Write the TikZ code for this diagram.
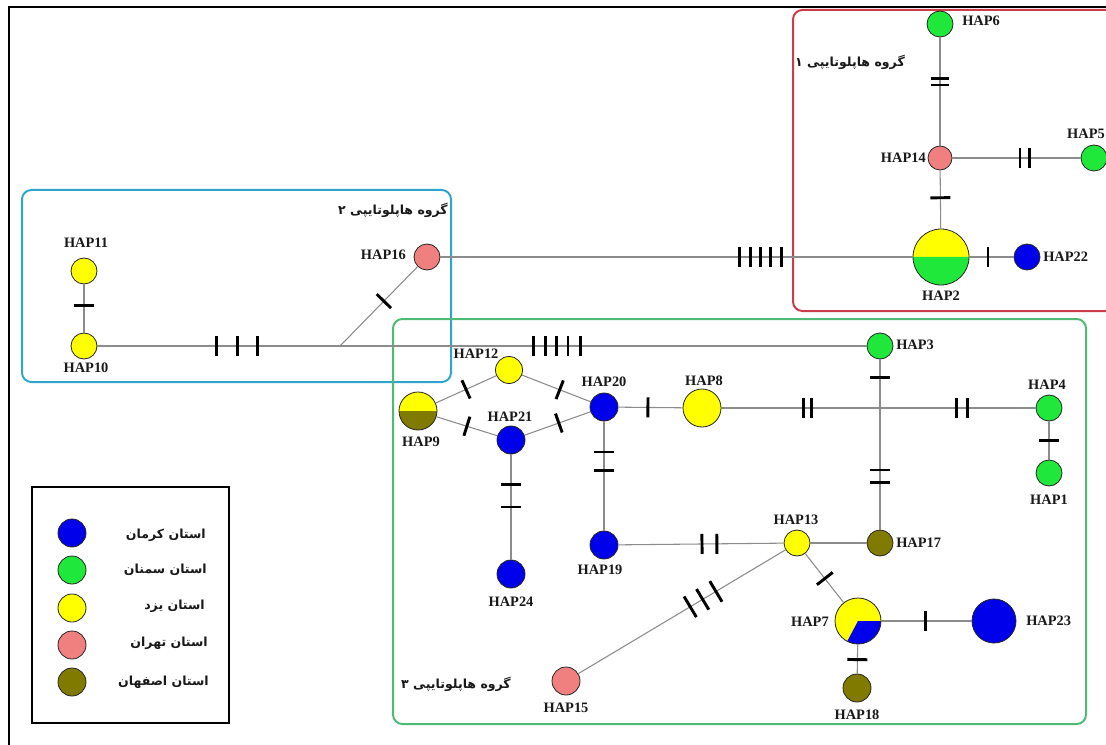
\documentclass[tikz,border=0pt]{standalone}
\usepackage{fontspec}
\setmainfont{Liberation Serif}
\newfontfamily\fafont[Script=Arabic]{DejaVu Sans}
\TeXXeTstate=1
\definecolor{cb}{RGB}{0,0,235}
\definecolor{cg}{RGB}{32,232,58}
\definecolor{cy}{RGB}{255,255,0}
\definecolor{cp}{RGB}{240,128,128}
\definecolor{co}{RGB}{128,122,0}
\definecolor{lgrey}{RGB}{140,140,140}
\definecolor{redbox}{RGB}{205,60,75}
\definecolor{bluebox}{RGB}{45,165,205}
\definecolor{greenbox}{RGB}{80,185,115}
\begin{document}
\begin{tikzpicture}[x=0.75pt,y=-0.75pt,
  hap/.style={circle,draw=black!85,line width=0.6pt,inner sep=0pt,minimum size=#1*0.75pt},
  edge/.style={draw=lgrey,line width=0.8pt},
  tick/.style={sloped,rectangle,fill=black,draw=none,inner sep=0pt,minimum width=2.2pt,minimum height=15pt},
  lab/.style={font=\fontsize{10.8}{12}\selectfont\bfseries,inner sep=0pt,text=black!90},
  fa/.style={font=\fafont\bfseries\fontsize{9.4}{11}\selectfont,inner sep=0pt,text=black!90},
  grp/.style={rounded corners=7pt,line width=1.5pt}]
\useasboundingbox (0,0) rectangle (1106,745);
\clip (0,0) rectangle (1106,745);
\fill[white] (0,0) rectangle (1106,745);
% outer frame
\draw[line width=2pt] (9,745) -- (9,7) -- (1106,7);
% group boxes
\draw[grp,draw=redbox] (793,10) rectangle (1125,311);
\draw[grp,draw=bluebox] (22,190) rectangle (451,382);
\draw[grp,draw=greenbox] (393,319) rectangle (1086,724);
% legend box
\draw[line width=1.1pt] (32,487) rectangle (229,723);

% pie fills
\fill[cy] (941,257) ++(0:21pt) arc[start angle=0,end angle=180,radius=21pt] -- cycle;
\fill[cg] (941,257) ++(180:21pt) arc[start angle=180,end angle=360,radius=21pt] -- cycle;
\fill[cy] (418,411) ++(0:14.25pt) arc[start angle=0,end angle=180,radius=14.25pt] -- cycle;
\fill[co] (418,411) ++(180:14.25pt) arc[start angle=180,end angle=360,radius=14.25pt] -- cycle;
\fill[cy] (858,621) circle[radius=17.25pt];
\fill[cb] (858,621) -- ++(0:17.25pt) arc[start angle=0,end angle=-118,radius=17.25pt] -- cycle;

% haplotype nodes
\node[hap=26,fill=cg] (HAP6) at (940,24) {};
\node[hap=24,fill=cp] (HAP14) at (940,158) {};
\node[hap=26,fill=cg] (HAP5) at (1094,158) {};
\node[hap=56] (HAP2) at (941,257) {};
\node[hap=26,fill=cb] (HAP22) at (1027,257) {};
\node[hap=26,fill=cp] (HAP16) at (427,257) {};
\node[hap=26,fill=cy] (HAP11) at (84,271) {};
\node[hap=26,fill=cy] (HAP10) at (84,346) {};
\node[hap=26,fill=cg] (HAP3) at (880,346) {};
\node[hap=27,fill=cy] (HAP12) at (509,370) {};
\node[hap=38] (HAP9) at (418,411) {};
\node[hap=28,fill=cb] (HAP21) at (511,440) {};
\node[hap=28,fill=cb] (HAP20) at (604,407) {};
\node[hap=38,fill=cy] (HAP8) at (702,408) {};
\node[hap=26,fill=cg] (HAP4) at (1049,408) {};
\node[hap=26,fill=cg] (HAP1) at (1049,473) {};
\node[hap=28,fill=cb] (HAP24) at (511,574) {};
\node[hap=28,fill=cb] (HAP19) at (604,545) {};
\node[hap=26,fill=cy] (HAP13) at (797,543) {};
\node[hap=26,fill=co] (HAP17) at (880,543) {};
\node[hap=46] (HAP7) at (858,621) {};
\node[hap=44,fill=cb] (HAP23) at (994,621) {};
\node[hap=28,fill=co] (HAP18) at (857,688) {};
\node[hap=28,fill=cp] (HAP15) at (566,681) {};
\coordinate (J1) at (340,346);
\coordinate (J2) at (880,408);

% connectors with mutation marks
\draw[edge] (HAP6) -- (HAP14) node[tick,pos=0.376,minimum height=13.5pt]{} node[tick,pos=0.44,minimum height=13.5pt]{};
\draw[edge] (HAP14) -- (HAP5) node[tick,pos=0.527]{} node[tick,pos=0.60]{};
\draw[edge] (HAP14) -- (HAP2) node[tick,pos=0.47]{};
\draw[edge] (HAP2) -- (HAP22) node[tick,pos=0.42]{};
\draw[edge] (HAP16) -- (HAP2) node[tick,pos=0.634]{} node[tick,pos=0.657]{} node[tick,pos=0.678]{} node[tick,pos=0.699]{} node[tick,pos=0.722]{};
\draw[edge] (HAP11) -- (HAP10) node[tick,pos=0.43]{};
\draw[edge] (HAP10) -- (J1) node[tick,pos=0.49]{} node[tick,pos=0.578]{} node[tick,pos=0.66]{};
\draw[edge] (HAP16) -- (J1) node[tick,pos=0.435]{};
\draw[edge] (J1) -- (HAP3) node[tick,pos=0.367]{} node[tick,pos=0.39]{} node[tick,pos=0.411]{} node[tick,pos=0.433]{} node[tick,pos=0.456]{};
\draw[edge] (HAP9) -- (HAP12) node[tick,pos=0.5]{};
\draw[edge] (HAP12) -- (HAP20) node[tick,pos=0.55]{};
\draw[edge] (HAP9) -- (HAP21) node[tick,pos=0.5]{};
\draw[edge] (HAP21) -- (HAP20) node[tick,pos=0.52]{};
\draw[edge] (HAP21) -- (HAP24) node[tick,pos=0.283]{} node[tick,pos=0.5]{};
\draw[edge] (HAP20) -- (HAP8) node[tick,pos=0.46]{};
\draw[edge] (HAP20) -- (HAP19) node[tick,pos=0.28]{} node[tick,pos=0.45]{};
\draw[edge] (HAP8) -- (J2) node[tick,pos=0.516]{} node[tick,pos=0.57]{};
\draw[edge] (J2) -- (HAP4) node[tick,pos=0.49]{} node[tick,pos=0.56]{};
\draw[edge] (HAP3) -- (J2) node[tick,pos=0.37]{};
\draw[edge] (J2) -- (HAP17) node[tick,pos=0.51]{} node[tick,pos=0.61]{};
\draw[edge] (HAP4) -- (HAP1) node[tick,pos=0.5]{};
\draw[edge] (HAP19) -- (HAP13) node[tick,pos=0.506]{} node[tick,pos=0.596]{};
\draw[edge] (HAP13) -- (HAP17);
\draw[edge] (HAP13) -- (HAP15) node[tick,pos=0.336,minimum height=18pt]{} node[tick,pos=0.40,minimum height=18pt]{} node[tick,pos=0.46,minimum height=18pt]{};
\draw[edge] (HAP13) -- (HAP7) node[tick,pos=0.51]{};
\draw[edge] (HAP7) -- (HAP23) node[tick,pos=0.49]{};
\draw[edge] (HAP7) -- (HAP18) node[tick,pos=0.52]{};

% haplotype labels
\node[lab,anchor=west] (tHAP6) at (962,21) {HAP6};
\node[lab,anchor=east] (tHAP14) at (926,158) {HAP14};
\node[lab] (tHAP5) at (1086,134) {HAP5};
\node[lab] (tHAP2) at (941,296) {HAP2};
\node[lab,anchor=west] (tHAP22) at (1043,257) {HAP22};
\node[lab,anchor=east] (tHAP16) at (406,255) {HAP16};
\node[lab] (tHAP11) at (86,243) {HAP11};
\node[lab] (tHAP10) at (86,368) {HAP10};
\node[lab,anchor=west] (tHAP3) at (896,345) {HAP3};
\node[lab] (tHAP12) at (476,354) {HAP12};
\node[lab] (tHAP9) at (421,442) {HAP9};
\node[lab] (tHAP21) at (510,417) {HAP21};
\node[lab] (tHAP20) at (604,382) {HAP20};
\node[lab] (tHAP8) at (704,381) {HAP8};
\node[lab] (tHAP4) at (1047,385) {HAP4};
\node[lab] (tHAP1) at (1049,500) {HAP1};
\node[lab] (tHAP24) at (511,602) {HAP24};
\node[lab] (tHAP19) at (600,570) {HAP19};
\node[lab] (tHAP13) at (796,520) {HAP13};
\node[lab,anchor=west] (tHAP17) at (896,543) {HAP17};
\node[lab,anchor=east] (tHAP7) at (829,622) {HAP7};
\node[lab,anchor=west] (tHAP23) at (1026,621) {HAP23};
\node[lab] (tHAP18) at (857,715) {HAP18};
\node[lab] (tHAP15) at (566,708) {HAP15};

% group labels
\node[fa] (g1) at (850,62) {\beginR گروه هاپلوتایپی ۱\endR};
\node[fa] (g2) at (393,210) {\beginR گروه هاپلوتایپی ۲\endR};
\node[fa] (g3) at (456,684) {\beginR گروه هاپلوتایپی ۳\endR};

% legend
\node[hap=28,fill=cb] (lc1) at (72,533) {};
\node[hap=28,fill=cg] (lc2) at (72,570) {};
\node[hap=28,fill=cy] (lc3) at (72,608) {};
\node[hap=28,fill=cp] (lc4) at (72,645) {};
\node[hap=28,fill=co] (lc5) at (72,682) {};
\node[fa,anchor=east] (lt1) at (206,535) {\beginR استان کرمان\endR};
\node[fa,anchor=east] (lt2) at (207,570) {\beginR استان سمنان\endR};
\node[fa,anchor=east] (lt3) at (205,606) {\beginR استان یزد\endR};
\node[fa,anchor=east] (lt4) at (208,643) {\beginR استان تهران\endR};
\node[fa,anchor=east] (lt5) at (209,682) {\beginR استان اصفهان\endR};
\end{tikzpicture}
\end{document}
